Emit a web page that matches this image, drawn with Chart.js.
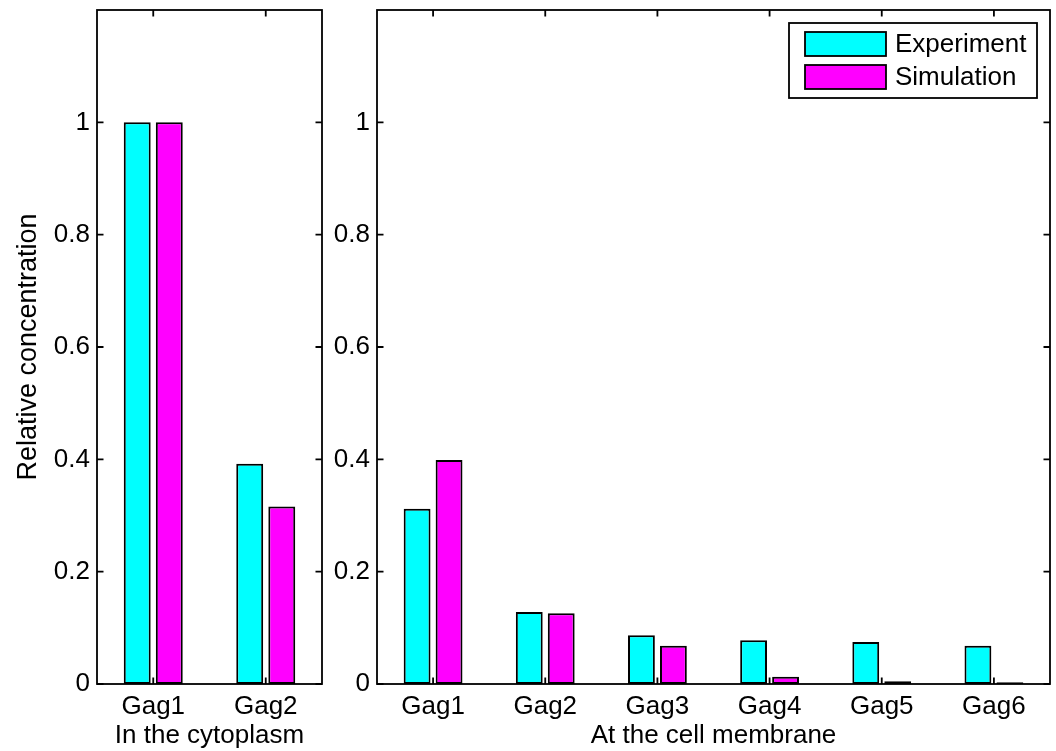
<!DOCTYPE html>
<html>
<head>
<meta charset="utf-8">
<script src="https://cdn.jsdelivr.net/npm/chart.js@4"></script>
<style>
  html, body { margin: 0; padding: 0; background: #fff; }
  #wrap { position: relative; width: 1056px; height: 751px; }
  .panel { position: absolute; top: 0; height: 751px; }
  #p1 { left: 0; width: 340px; }
  #p2 { left: 300px; width: 756px; }
</style>
</head>
<body>
<div id="wrap">
  <div class="panel" id="p1"><canvas id="c1"></canvas></div>
  <div class="panel" id="p2"><canvas id="c2"></canvas></div>
</div>
<script>
// Relative Gag concentrations, experiment vs. simulation
const cytoCategories = ['Gag1', 'Gag2'];
const cytoExperiment = [1.0, 0.392];
const cytoSimulation = [1.0, 0.316];

const membraneCategories = ['Gag1', 'Gag2', 'Gag3', 'Gag4', 'Gag5', 'Gag6'];
const membraneExperiment = [0.312, 0.128, 0.087, 0.078, 0.075, 0.068];
const membraneSimulation = [0.399, 0.126, 0.068, 0.013, 0.005, 0.003];

const yTickValues = [0, 0.2, 0.4, 0.6, 0.8, 1];
const seriesNames = ['Experiment', 'Simulation'];
const seriesColors = ['#00ffff', '#ff00ff'];

const FONT = { family: '"Liberation Sans", Arial, Helvetica, sans-serif', size: 26 };
const TITLE_FONT = { family: FONT.family, size: 27 };
const TICK_LEN = 6.5;
const AXIS_LW = 1.8;

// Full box around the plot area with inward tick marks on all four sides
const boxedAxes = {
  id: 'boxedAxes',
  afterDatasetsDraw(chart) {
    const { ctx, chartArea: a, scales: { x, y } } = chart;
    ctx.save();
    ctx.strokeStyle = '#000';
    ctx.lineWidth = AXIS_LW;
    ctx.beginPath();
    yTickValues.forEach(v => {
      const py = y.getPixelForValue(v);
      ctx.moveTo(a.left, py); ctx.lineTo(a.left + TICK_LEN, py);
      ctx.moveTo(a.right, py); ctx.lineTo(a.right - TICK_LEN, py);
    });
    x.ticks.forEach((t, i) => {
      const px = x.getPixelForTick(i);
      ctx.moveTo(px, a.bottom); ctx.lineTo(px, a.bottom - TICK_LEN);
      ctx.moveTo(px, a.top); ctx.lineTo(px, a.top + TICK_LEN);
    });
    ctx.stroke();
    ctx.strokeRect(a.left, a.top, a.right - a.left, a.bottom - a.top);
    ctx.restore();
  }
};

// Boxed legend in the upper-right corner of the plot area
const boxedLegend = {
  id: 'boxedLegend',
  afterDraw(chart, args, opts) {
    if (!opts.show) return;
    const { ctx, chartArea: a } = chart;
    const w = 248, h = 75;
    const right = a.right - 13, top = a.top + 13;
    const left = right - w;
    ctx.save();
    ctx.fillStyle = '#fff';
    ctx.fillRect(left, top, w, h);
    ctx.strokeStyle = '#000';
    ctx.lineWidth = AXIS_LW;
    ctx.strokeRect(left, top, w, h);
    ctx.font = FONT.size + 'px ' + FONT.family;
    ctx.textBaseline = 'middle';
    ctx.textAlign = 'left';
    chart.data.datasets.forEach((ds, i) => {
      const sy = top + 9 + i * 33;
      ctx.fillStyle = ds.backgroundColor;
      ctx.fillRect(left + 16, sy, 81, 24);
      ctx.strokeStyle = '#000';
      ctx.lineWidth = 1.8;
      ctx.strokeRect(left + 16, sy, 81, 24);
      ctx.fillStyle = '#000';
      ctx.fillText(ds.label, left + 106, sy + 13);
    });
    ctx.restore();
  }
};

function makePanel(canvasId, categories, exp, sim, cfg) {
  return new Chart(document.getElementById(canvasId), {
    type: 'bar',
    data: {
      labels: categories,
      datasets: [
        { label: seriesNames[0], data: exp, backgroundColor: seriesColors[0] },
        { label: seriesNames[1], data: sim, backgroundColor: seriesColors[1] }
      ]
    },
    options: {
      responsive: true,
      maintainAspectRatio: false,
      animation: false,
      devicePixelRatio: 1,
      layout: { padding: { left: 0, top: 10, right: cfg.padRight, bottom: 0 } },
      datasets: {
        bar: {
          borderColor: '#000',
          borderWidth: 2,
          borderSkipped: false,
          categoryPercentage: 0.57,
          barPercentage: 0.84
        }
      },
      plugins: {
        legend: { display: false },
        tooltip: { enabled: false },
        boxedLegend: { show: cfg.legend }
      },
      scales: {
        x: {
          grid: { display: false, drawTicks: false },
          border: { display: false },
          ticks: { font: FONT, color: '#000', padding: 7, maxRotation: 0, autoSkip: false },
          title: { display: true, text: cfg.xTitle, font: FONT, color: '#000', padding: { top: 0, bottom: 0 } },
          afterFit(s) { s.height = 67; s.paddingLeft = 0; s.paddingRight = 0; }
        },
        y: {
          min: 0,
          max: 1.2,
          grid: { display: false, drawTicks: false },
          border: { display: false },
          afterBuildTicks(s) { s.ticks = yTickValues.map(v => ({ value: v })); },
          ticks: { font: FONT, color: '#000', padding: 7, callback: v => String(+(+v).toFixed(1)) },
          title: cfg.yTitle
            ? { display: true, text: cfg.yTitle, font: TITLE_FONT, color: '#000', padding: { top: 12, bottom: 0 } }
            : { display: false },
          afterFit(s) { s.width = cfg.yWidth; s.paddingTop = 0; s.paddingBottom = 0; }
        }
      }
    },
    plugins: [boxedAxes, boxedLegend]
  });
}

makePanel('c1', cytoCategories, cytoExperiment, cytoSimulation, {
  padRight: 18, yWidth: 97, yTitle: 'Relative concentration', xTitle: 'In the cytoplasm', legend: false
});
makePanel('c2', membraneCategories, membraneExperiment, membraneSimulation, {
  padRight: 6, yWidth: 77, yTitle: null, xTitle: 'At the cell membrane', legend: true
});
</script>
</body>
</html>
